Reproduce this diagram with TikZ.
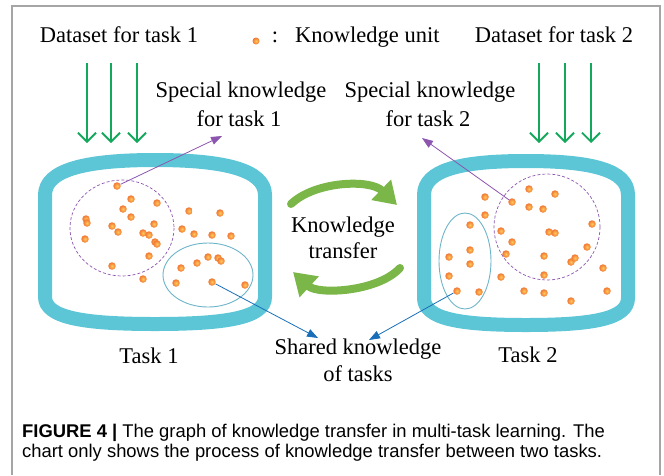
\documentclass[tikz,border=0pt]{standalone}
\usepackage{fontspec}
\setmainfont{Liberation Serif}
\newfontfamily\capsans{Liberation Sans}
\usetikzlibrary{arrows.meta}

\definecolor{frameg}{RGB}{165,165,165}
\definecolor{barrel}{RGB}{93,198,214}
\definecolor{datagreen}{RGB}{20,168,92}
\definecolor{xfergreen}{RGB}{122,182,72}
\definecolor{specpurple}{RGB}{140,85,175}
\definecolor{sharedteal}{RGB}{110,180,200}
\definecolor{sharedblue}{RGB}{25,110,185}
\definecolor{dotin}{RGB}{255,200,90}
\definecolor{dotout}{RGB}{240,118,50}

\tikzset{
  lbl/.style={font=\fontsize{22.5}{25}\selectfont, inner sep=0pt, align=center},
  kdot/.style={circle, inner sep=0pt, minimum size=7.5pt, inner color=dotin, outer color=dotout},
  container/.style={draw=barrel, line width=14pt, line join=round},
  dataarrow/.style={draw=datagreen, line width=1.8pt, -{Straight Barb[length=9pt,width=18pt,line width=1.8pt]}},
  xferarrow/.style={draw=xfergreen, line width=8pt, line cap=round, -{Triangle[length=22pt,width=27pt]}},
  specring/.style={draw=specpurple, line width=0.7pt, dash pattern=on 3pt off 2pt},
  sharedring/.style={draw=sharedteal, line width=0.9pt},
  specarrow/.style={draw=specpurple, line width=0.8pt, -{Triangle[length=11pt,width=8pt]}},
  sharedarrow/.style={draw=sharedblue, line width=0.8pt, -{Triangle[length=11pt,width=8pt]}},
  caption/.style={font=\capsans\fontsize{18.4}{20}\selectfont, inner sep=0pt, anchor=base west}
}

\begin{document}
\begin{tikzpicture}[x=1pt,y=-1pt]
\useasboundingbox (0,0) rectangle (664,475);

% outer frame, open at the bottom
\draw[frameg, line width=1.4pt] (12,475) -- (12,6) -- (660,6) -- (660,475);

% headings and legend
\node[lbl, anchor=base] (ds1) at (119,42) {Dataset for task 1};
\node[lbl, anchor=base] (ds2) at (554,42) {Dataset for task 2};
\node[kdot, minimum size=7pt] (legdot) at (256,41) {};
\node[lbl, anchor=base] (legcolon) at (275,42) {:};
\node[lbl, anchor=base west] (legtxt) at (295,42) {Knowledge unit};

% data flowing into each task
\foreach \x [count=\i] in {87,111,137} {
  \coordinate (da\i) at (\x,63);
  \coordinate (db\i) at (\x,143);
  \draw[dataarrow] (da\i) -- (db\i);
}
\foreach \x [count=\i] in {539,565,591} {
  \coordinate (ea\i) at (\x,63);
  \coordinate (eb\i) at (\x,143);
  \draw[dataarrow] (ea\i) -- (eb\i);
}

% labels for the special knowledge
\node[lbl, anchor=base] (sp1a) at (241,97) {Special knowledge};
\node[lbl, anchor=base] (sp1b) at (239,126) {for task 1};
\node[lbl, anchor=base] (sp2a) at (430,97) {Special knowledge};
\node[lbl, anchor=base] (sp2b) at (428,126) {for task 2};

% the two task containers
\draw[container] (45,297) -- (45,195) .. controls (45,170) and (85,160) .. (155,160)
  .. controls (225,160) and (265,170) .. (265,195) -- (265,297)
  .. controls (265,318) and (225,324) .. (155,324)
  .. controls (85,324) and (45,318) .. (45,297) -- cycle;
\draw[container] (424,298) -- (424,195) .. controls (424,170) and (460,161) .. (526,161)
  .. controls (592,161) and (628,170) .. (628,195) -- (628,298)
  .. controls (628,319) and (592,325) .. (526,325)
  .. controls (460,325) and (424,319) .. (424,298) -- cycle;

% knowledge regions
\draw[specring] (122,228) ellipse [x radius=52, y radius=48];
\draw[sharedring] (208,275) ellipse [x radius=45, y radius=32];
\draw[specring] (547,227) ellipse [x radius=53, y radius=53];
\draw[sharedring] (465,261) ellipse [x radius=26, y radius=48];

% knowledge units of task 1
\node[kdot] (p1) at (117,186) {};
\node[kdot] (s1) at (212,282) {};
\foreach \x/\y [count=\i] in {131/199,157/203,123/209,131/217,86/219,87/223,112/226,118/232,
  154/224,143/233,149/235,155/242,157/244,85/239,182/229,189/211,220/213,194/234,212/235,
  231/236,149/256,112/266,143/279,181/268,197/263,208/257,218/258,221/261,176/283,245/285}
  \node[kdot] (ka\i) at (\x,\y) {};

% knowledge units of task 2
\node[kdot] (p2) at (512,202) {};
\node[kdot] (s2) at (457,291) {};
\foreach \x/\y [count=\i] in {485/197,529/189,555/194,529/207,543/209,485/215,470/225,
  501/231,512/242,549/232,555/233,592/224,470/250,449/257,470/264,506/254,544/256,587/247,
  571/262,575/258,449/276,501/277,544/275,603/268,479/292,524/291,544/293,571/301,607/291}
  \node[kdot] (kb\i) at (\x,\y) {};

% pointers to the special knowledge labels
\coordinate (sp1tip) at (222,136);
\coordinate (sp2tip) at (422,138);
\draw[specarrow] (p1) -- (sp1tip);
\draw[specarrow] (p2) -- (sp2tip);

% knowledge transfer between the tasks
\node[lbl, anchor=base] (kt1) at (343,232) {Knowledge};
\node[lbl, anchor=base] (kt2) at (343,258) {transfer};
\coordinate (xa) at (291,204);
\coordinate (xb) at (397,205);
\coordinate (xc) at (400,268);
\coordinate (xd) at (293,272);
\draw[xferarrow] (xa) .. controls (315,181) and (370,179) .. (xb);
\draw[xferarrow] (xc) .. controls (378,292) and (318,295) .. (xd);

% shared knowledge
\node[lbl, anchor=base] (sh1) at (358,354) {Shared knowledge};
\node[lbl, anchor=base] (sh2) at (358,381) {of tasks};
\coordinate (sh1tip) at (318,338);
\coordinate (sh2tip) at (369,340);
\draw[sharedarrow] (s1) -- (sh1tip);
\draw[sharedarrow] (s2) -- (sh2tip);

% task names
\node[lbl, anchor=base] (t1) at (149,363) {Task 1};
\node[lbl, anchor=base] (t2) at (528,362) {Task 2};

% caption
\node[caption] (cap1) at (22,437) {\textbf{FIGURE 4 |} The graph of knowledge transfer in multi-task learning. The};
\node[caption] (cap2) at (22,457) {chart only shows the process of knowledge transfer between two tasks.};
\end{tikzpicture}
\end{document}
